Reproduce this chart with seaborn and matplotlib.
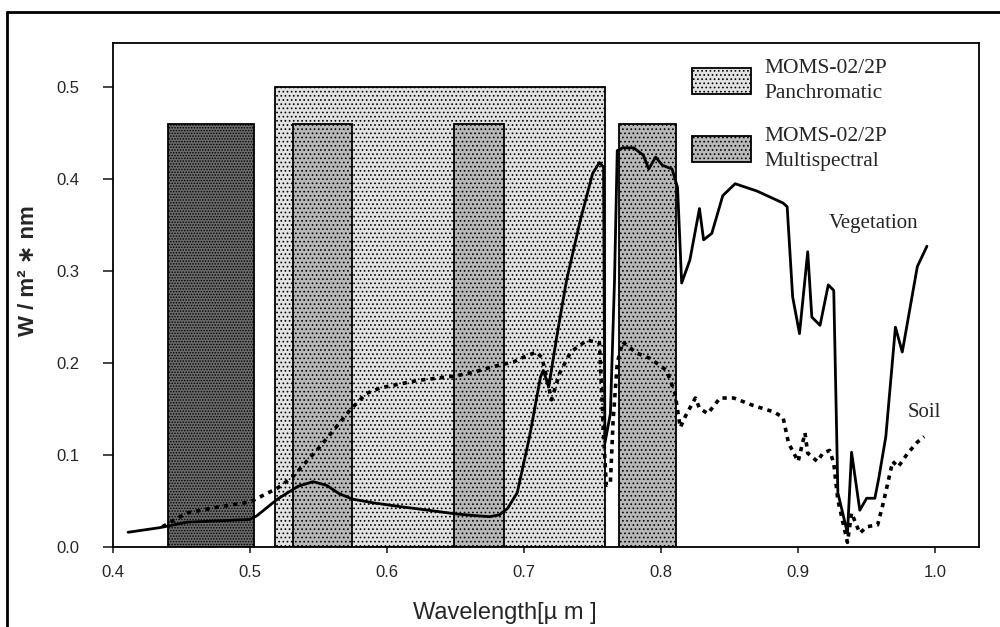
import matplotlib
matplotlib.use("Agg")
import matplotlib.pyplot as plt
import seaborn as sns
from matplotlib.patches import Patch
from matplotlib.lines import Line2D

# Spektren (Wellenlaenge in um, Strahldichte W/m2*nm)
veg_wl = [0.411, 0.434, 0.454, 0.470, 0.500, 0.505, 0.520, 0.535, 0.546, 0.556,
          0.565, 0.575, 0.590, 0.609, 0.630, 0.650, 0.665, 0.675, 0.682, 0.688,
          0.695, 0.704, 0.712, 0.714, 0.718, 0.724, 0.731, 0.741, 0.750, 0.755,
          0.758, 0.759, 0.763, 0.766, 0.768, 0.772, 0.780, 0.787, 0.791, 0.796,
          0.801, 0.808, 0.812, 0.815, 0.821, 0.828, 0.831, 0.837, 0.845, 0.854,
          0.870, 0.889, 0.892, 0.896, 0.901, 0.907, 0.910, 0.916, 0.922, 0.926,
          0.929, 0.936, 0.939, 0.945, 0.950, 0.956, 0.959, 0.964, 0.971, 0.976,
          0.987, 0.994]
veg_val = [0.016, 0.021, 0.027, 0.028, 0.030, 0.034, 0.052, 0.066, 0.071, 0.067,
           0.058, 0.052, 0.048, 0.044, 0.040, 0.036, 0.034, 0.033, 0.035, 0.042,
           0.059, 0.120, 0.185, 0.192, 0.174, 0.230, 0.290, 0.355, 0.406, 0.418,
           0.413, 0.113, 0.145, 0.290, 0.431, 0.434, 0.434, 0.426, 0.411, 0.424,
           0.415, 0.411, 0.391, 0.287, 0.312, 0.368, 0.334, 0.341, 0.382, 0.395,
           0.387, 0.374, 0.370, 0.272, 0.232, 0.321, 0.250, 0.241, 0.285, 0.279,
           0.059, 0.015, 0.103, 0.040, 0.053, 0.053, 0.076, 0.120, 0.239, 0.212,
           0.305, 0.327]

soil_wl = [0.436, 0.454, 0.475, 0.500, 0.520, 0.531, 0.551, 0.561, 0.573, 0.585,
           0.595, 0.622, 0.650, 0.663, 0.677, 0.692, 0.699, 0.709, 0.713, 0.717,
           0.720, 0.726, 0.734, 0.746, 0.755, 0.758, 0.760, 0.763, 0.765, 0.768,
           0.772, 0.782, 0.792, 0.804, 0.810, 0.814, 0.818, 0.825, 0.828, 0.834,
           0.843, 0.853, 0.867, 0.882, 0.889, 0.893, 0.900, 0.905, 0.907, 0.914,
           0.918, 0.923, 0.926, 0.929, 0.936, 0.939, 0.945, 0.950, 0.958, 0.962,
           0.969, 0.973, 0.980, 0.987, 0.992]
soil_val = [0.022, 0.037, 0.043, 0.049, 0.064, 0.076, 0.109, 0.127, 0.149, 0.167,
            0.173, 0.181, 0.186, 0.190, 0.196, 0.201, 0.206, 0.212, 0.206, 0.181,
            0.160, 0.189, 0.212, 0.225, 0.222, 0.124, 0.067, 0.070, 0.138, 0.200,
            0.223, 0.211, 0.205, 0.192, 0.168, 0.130, 0.143, 0.162, 0.151, 0.145,
            0.162, 0.162, 0.154, 0.147, 0.141, 0.113, 0.093, 0.124, 0.102, 0.093,
            0.102, 0.105, 0.091, 0.051, 0.005, 0.037, 0.015, 0.022, 0.024, 0.047,
            0.093, 0.087, 0.102, 0.114, 0.120]

# MOMS-02/2P Kanaele
pan_left = [0.518]
pan_right = [0.759]
pan_top = [0.50]
ms_left = [0.440, 0.531, 0.649, 0.769]
ms_right = [0.503, 0.5745, 0.685, 0.811]
ms_top = [0.46, 0.46, 0.46, 0.46]

tick_x = [0.4, 0.5, 0.6, 0.7, 0.8, 0.9, 1.0]
tick_y = [0.0, 0.1, 0.2, 0.3, 0.4, 0.5]

sns.set_style("ticks")
plt.rcParams["font.family"] = ["Liberation Sans", "DejaVu Sans"]
plt.rcParams["hatch.linewidth"] = 0.7

fig = plt.figure(figsize=(10, 6.27), dpi=100)
ax = fig.add_axes([0.113, 0.1276, 0.866, 0.8038])

pan_style = dict(facecolor="#e2e2e2", edgecolor="black", hatch="....", linewidth=1.3)
ms_style = dict(facecolor="#b8b8b8", edgecolor="black", hatch="....", linewidth=1.3)
blue_style = dict(facecolor="#6a6a6a", edgecolor="black", hatch="......", linewidth=1.3)

ax.bar(pan_left, pan_top, width=[r - l for l, r in zip(pan_left, pan_right)],
       align="edge", zorder=1, **pan_style)
ax.bar(ms_left[:1], ms_top[:1], width=[ms_right[0] - ms_left[0]],
       align="edge", zorder=2, **blue_style)
ax.bar(ms_left[1:], ms_top[1:], width=[r - l for l, r in zip(ms_left[1:], ms_right[1:])],
       align="edge", zorder=2, **ms_style)

sns.lineplot(x=veg_wl, y=veg_val, ax=ax, color="black", linewidth=2,
             estimator=None, sort=False, zorder=4)
sns.lineplot(x=soil_wl, y=soil_val, ax=ax, color="black", linewidth=2.6,
             linestyle=(0, (1.2, 1.4)), estimator=None, sort=False, zorder=4)

ax.set_xlim(0.4, 1.032)
ax.set_ylim(0, 0.548)
ax.set_xticks(tick_x)
ax.set_xticklabels([f"{t:.1f}" for t in tick_x])
ax.set_yticks(tick_y)
ax.set_yticklabels([f"{t:.1f}" for t in tick_y])
ax.tick_params(axis="y", direction="out", length=7, width=1.2, pad=17, labelsize=12)
ax.tick_params(axis="x", direction="out", length=4, width=1.2, pad=9, labelsize=12)
for sp in ax.spines.values():
    sp.set_linewidth(1.3)
    sp.set_color("black")
ax.set_xlabel("")
ax.set_ylabel("")

serif = {"family": "Liberation Serif", "size": 15.5}
handles = [Patch(**pan_style), Patch(**ms_style)]
leg = ax.legend(handles, ["MOMS-02/2P\nPanchromatic", "MOMS-02/2P\nMultispectral"],
                loc="upper left", bbox_to_anchor=(0.6686, 0.968), frameon=False,
                prop=serif, borderpad=0, borderaxespad=0, handlelength=2.75,
                handleheight=1.45, handletextpad=0.6, labelspacing=1.1)
for t in leg.get_texts():
    t.set_linespacing(1.45)

ax.text(0.9226, 0.352, "Vegetation", fontfamily="Liberation Serif", fontsize=15,
        va="center", ha="left")
ax.text(0.9796, 0.146, "Soil", fontfamily="Liberation Serif", fontsize=15,
        va="center", ha="left")

fig.text(0.029, 1 - 271 / 627, "W / m² ∗ nm", rotation=90, ha="center", va="center",
         fontsize=16, fontweight="bold")
fig.text(0.505, 1 - 613 / 627, "Wavelength[µ m ]", ha="center", va="center",
         fontsize=17)

# Rahmen um die Abbildung
fig.add_artist(Line2D([0.007, 0.007], [0, 1 - 12 / 627], color="black", lw=2,
                      transform=fig.transFigure))
fig.add_artist(Line2D([0.007, 1], [1 - 12 / 627, 1 - 12 / 627], color="black", lw=2,
                      transform=fig.transFigure))

fig.savefig("out.png", dpi=100)
